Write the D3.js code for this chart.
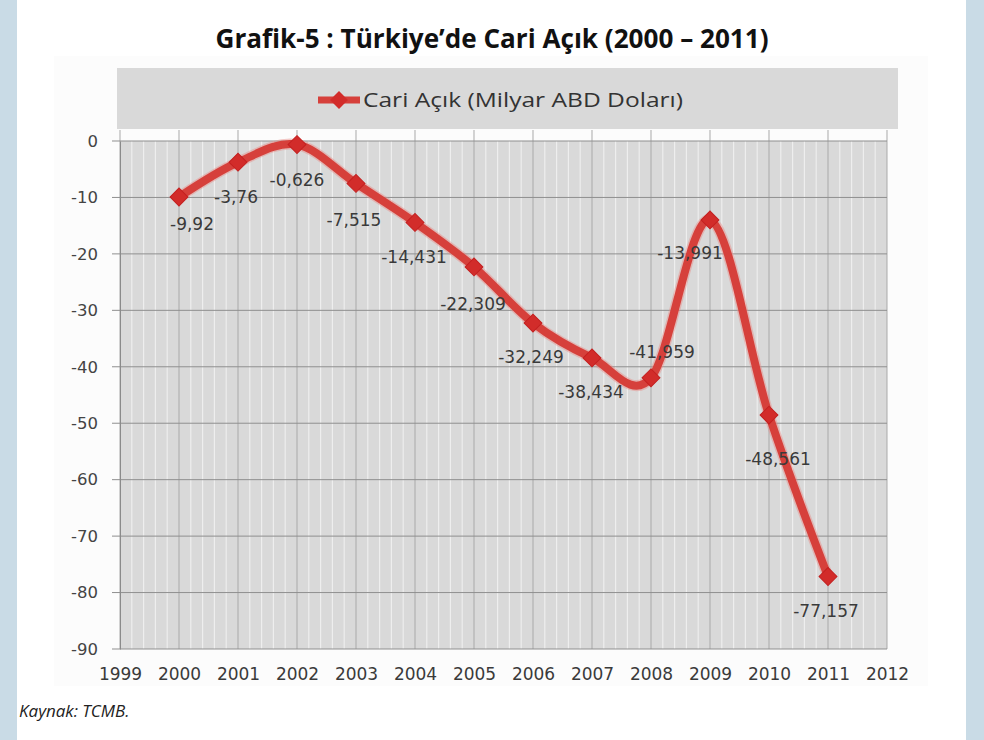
<!DOCTYPE html>
<html><head><meta charset="utf-8">
<script src="https://cdn.jsdelivr.net/npm/d3@7"></script>
<style>
html,body{margin:0;padding:0;background:#fff;}
svg{display:block;}
</style></head>
<body>
<svg id="c" width="984" height="740"></svg>
<script>
// ---- data ----
const years = [2000, 2001, 2002, 2003, 2004, 2005, 2006, 2007, 2008, 2009, 2010, 2011];
const values = [-9.92, -3.76, -0.626, -7.515, -14.431, -22.309, -32.249, -38.434, -41.959, -13.991, -48.561, -77.157];
const valueLabels = ["-9,92", "-3,76", "-0,626", "-7,515", "-14,431", "-22,309", "-32,249", "-38,434", "-41,959", "-13,991", "-48,561", "-77,157"];
const xTicks = [1999, 2000, 2001, 2002, 2003, 2004, 2005, 2006, 2007, 2008, 2009, 2010, 2011, 2012];
const yTicks = [0, -10, -20, -30, -40, -50, -60, -70, -80, -90];
const yTickLabels = ["0", "-10", "-20", "-30", "-40", "-50", "-60", "-70", "-80", "-90"];
const seriesName = "Cari Açık (Milyar ABD Doları)";
const titleText = "Grafik-5 : Türkiye’de Cari Açık (2000 – 2011)";
const sourceText = "Kaynak: TCMB.";
// label placement (layout only): pixel offsets of each data label centre from its point
const labelOffsets = [[13,27],[-2,35],[0,36],[-2,37],[-1,35],[-1,37],[-2,34],[-1,34],[11,-26],[-20,33],[9,44],[-2,35]];

const svg = d3.select("#c");
const W = 984, H = 740;
const blue = "#c9dbe6";
svg.append("rect").attr("x",0).attr("y",0).attr("width",W).attr("height",H).attr("fill","#fff");
svg.append("rect").attr("x",0).attr("y",0).attr("width",17).attr("height",H).attr("fill",blue);
svg.append("rect").attr("x",966).attr("y",0).attr("width",18).attr("height",H).attr("fill",blue);

// title
svg.append("text").attr("x",492).attr("y",48).attr("text-anchor","middle")
  .attr("font-family","'Open Sans', sans-serif").attr("font-weight",700).attr("font-size",27)
  .attr("fill","#111").attr("textLength",553).attr("lengthAdjust","spacingAndGlyphs").text(titleText);

// chart area (faint)
svg.append("rect").attr("x",54).attr("y",56).attr("width",874).attr("height",630).attr("fill","#fcfcfc");

const x = d3.scaleLinear().domain([1999, 2012]).range([120, 887]);
const y = d3.scaleLinear().domain([-90, 0]).range([649, 141]);

// legend box
svg.append("rect").attr("x",117).attr("y",68).attr("width",781).attr("height",61).attr("fill","#d9d9d9");

// plot background
svg.append("rect").attr("x",x(1999)).attr("y",y(0)).attr("width",x(2012)-x(1999)).attr("height",y(-90)-y(0)).attr("fill","#d9d9d9");

// minor vertical grid
const minor = d3.range(1999, 2012, 0.2).filter(v => Math.abs(v - Math.round(v)) > 0.01);
svg.append("g").selectAll("line").data(minor).join("line")
  .attr("x1",d=>x(d)).attr("x2",d=>x(d)).attr("y1",y(0)).attr("y2",y(-90))
  .attr("stroke","#eeeeee").attr("stroke-width",1.2);
// major vertical grid
svg.append("g").selectAll("line").data(xTicks).join("line")
  .attr("x1",d=>x(d)).attr("x2",d=>x(d)).attr("y1",130).attr("y2",y(-90))
  .attr("stroke","#a9a9a9").attr("stroke-width",1);
// horizontal grid
svg.append("g").selectAll("line").data(yTicks).join("line")
  .attr("x1",x(1999)-8).attr("x2",x(2012)).attr("y1",d=>y(d)).attr("y2",d=>y(d))
  .attr("stroke","#8f8f8f").attr("stroke-width",1);

// y axis
const yAxis = d3.axisLeft(y).tickValues(yTicks).tickSize(0).tickPadding(22)
  .tickFormat((d,i)=>yTickLabels[i]);
const gy = svg.append("g").attr("transform",`translate(${x(1999)},0)`).call(yAxis);
gy.select(".domain").attr("stroke","#8a8a8a");
gy.selectAll("text").attr("font-family","'DejaVu Sans', sans-serif").attr("font-size",16.5).attr("fill","#444");

// x axis
const xAxis = d3.axisBottom(x).tickValues(xTicks).tickSize(0).tickPadding(19).tickFormat(d3.format("d"));
const gx = svg.append("g").attr("transform",`translate(0,${y(-90)})`).call(xAxis);
gx.select(".domain").remove();
gx.selectAll("text").attr("font-family","'DejaVu Sans', sans-serif").attr("font-size",17).attr("fill","#3a3a3a");

// series line
const lineColor = "#d6403b";
const pts = years.map((yr,i)=>[x(yr), y(values[i])]);
const line = d3.line().curve(d3.curveCatmullRom.alpha(0));
svg.append("path").attr("d", line(pts)).attr("fill","none").attr("stroke","#e88a86").attr("stroke-width",11).attr("stroke-opacity",0.45).attr("stroke-linejoin","round");
svg.append("path").attr("d", line(pts)).attr("fill","none").attr("stroke",lineColor).attr("stroke-width",8).attr("stroke-linejoin","round").attr("stroke-linecap","round");

const diamondPath = d3.symbol().type(d3.symbolSquare).size(160)();
svg.append("g").selectAll("path").data(pts).join("path")
  .attr("d", diamondPath)
  .attr("transform", d=>`translate(${d[0]},${d[1]}) rotate(45)`)
  .attr("fill","#d22c2a").attr("stroke","#c42020").attr("stroke-width",1);

// data labels
svg.append("g").selectAll("text").data(pts).join("text")
  .attr("x",(d,i)=>d[0]+labelOffsets[i][0]).attr("y",(d,i)=>d[1]+labelOffsets[i][1])
  .attr("dy","0.35em").attr("text-anchor","middle")
  .attr("font-family","'DejaVu Sans', sans-serif").attr("font-size",17).attr("fill","#3a3a3a")
  .text((d,i)=>valueLabels[i]);

// legend
const lgY = 100;
svg.append("line").attr("x1",318).attr("x2",360).attr("y1",lgY).attr("y2",lgY).attr("stroke",lineColor).attr("stroke-width",7);
svg.append("path").attr("d",diamondPath).attr("transform",`translate(339,${lgY}) rotate(45)`).attr("fill","#d22c2a");
svg.append("text").attr("x",363).attr("y",lgY).attr("dy","0.35em")
  .attr("font-family","'Open Sans', sans-serif").attr("font-size",20).attr("fill","#333")
  .attr("textLength",320).attr("lengthAdjust","spacingAndGlyphs").text(seriesName);

// source
svg.append("text").attr("x",19).attr("y",717).attr("font-family","'Open Sans', sans-serif")
  .attr("font-style","italic").attr("font-size",17).attr("fill","#222").text(sourceText);
</script>
</body></html>
